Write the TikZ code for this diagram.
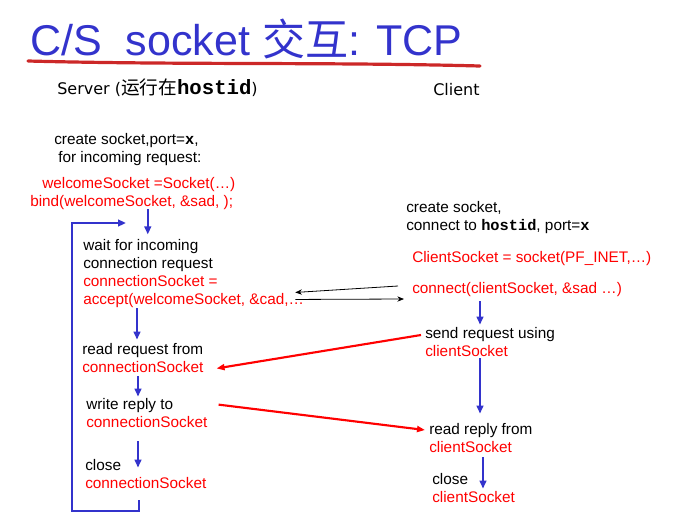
\documentclass[tikz,border=0pt]{standalone}
\usepackage{fontspec}
\setmainfont{Liberation Sans}
\setmonofont{Liberation Mono}
\newfontfamily\cjk{Noto Sans CJK SC}
\newfontfamily\headfont{DejaVu Sans}
\usetikzlibrary{calc,arrows.meta}
\definecolor{slideblue}{RGB}{51,51,204}
\definecolor{penred}{RGB}{204,40,40}
\newcommand{\cs}[1]{\textcolor{red}{#1}}
\newcommand{\hostid}{\texttt{\textbf{hostid}}}
\tikzset{
  txt/.style={inner sep=0pt, anchor=base west, align=left, font=\fontsize{11.5}{13.5}\selectfont},
  head/.style={inner sep=0pt, anchor=base west, font=\headfont\fontsize{12}{14}\selectfont},
  flow/.style={-{Triangle[length=6pt,width=5pt]}, slideblue, line width=1.6pt},
  msg/.style={-{Triangle[length=6pt,width=4.5pt]}, red, line width=1.6pt},
  hand/.style={-{Stealth[length=5pt,width=4pt]}, black, line width=0.6pt}
}
\begin{document}
\begin{tikzpicture}[x=0.75pt,y=-0.75pt]
    \useasboundingbox (0,0) rectangle (683,526);

    % title with hand drawn underline
    \node[inner sep=0pt, anchor=base west, text=slideblue, font=\fontsize{32.3}{36}\selectfont]
        (title) at (30,55) {C/S\ \ socket {\cjk 交互}: TCP};
    \draw[penred, line width=2.4pt, line cap=round]
        (28,61) .. controls (180,65) and (330,62) .. (480,66);

    % column heads
    \node[head] (server) at (57,94)
        {Server ({\cjk\fontsize{14}{14}\selectfont 运行在}{\fontsize{15.5}{14}\selectfont\hostid})};
    \node[head] (client) at (433,95) {Client};

    % server side (base = last line)
    \node[txt] (create) at (54,162)
        {create socket,port=\texttt{\textbf{x}},\\\hspace*{3pt}for incoming request:};
    \node[txt, text=red] (bind) at (30,206)
        {\hspace*{9pt}welcomeSocket =Socket(\ldots)\\bind(welcomeSocket, \&sad, );};
    \node[txt] (wait) at (83,304)
        {wait for incoming\\connection request\\\cs{connectionSocket =}\\\cs{accept(welcomeSocket, \&cad,\ldots}};
    \node[txt] (read) at (82,372) {read request from\\\cs{connectionSocket}};
    \node[txt] (write) at (86,427) {write reply to\\\cs{connectionSocket}};
    \node[txt] (close) at (85,488) {close\\\cs{connectionSocket}};

    % client side
    \node[txt] (csock) at (406,230) {create socket,\\connect to \hostid, port=\texttt{\textbf{x}}};
    \node[txt, text=red] (cnew) at (412,262) {ClientSocket = socket(PF\_INET,\ldots)};
    \node[txt, text=red] (connect) at (412,293) {connect(clientSocket, \&sad \ldots)};
    \node[txt] (send) at (425,356) {send request using\\\cs{clientSocket}};
    \node[txt] (reply) at (429,452) {read reply from\\\cs{clientSocket}};
    \node[txt] (cclose) at (432,502) {close\\\cs{clientSocket}};

    % flow on each side
    \coordinate (loopL) at (72,511);
    \coordinate (loopT) at (126,223);
    \draw[flow] ($(bind.south)+(15,0)$) -- ($(bind.south)+(15,25)$);
    \draw[flow] ($(wait.south west)+(54,1)$) -- ($(read.north west)+(55,-3)$);
    \draw[flow] ($(read.south west)+(56,4)$) -- ($(write.north west)+(52,-1)$);
    \draw[flow] ($(write.south west)+(52,14)$) -- ($(close.north west)+(53,9)$);
    \draw[flow] ($(close.south west)+(54,12)$) |- (loopL) |- (loopT);
    \draw[flow] ($(connect.south west)+(68,5)$) -- ($(send.north west)+(55,-2)$);
    \draw[flow] ($(send.south west)+(55,2)$) -- ($(reply.north west)+(51,-9)$);
    \draw[flow] ($(reply.south west)+(54,5)$) -- ($(cclose.north west)+(51,16)$);

    % connection set-up
    \draw[hand] ($(connect.base west)+(-14,-7)$) -- ($(wait.south east)+(-9,-15)$);
    \draw[hand] ($(wait.south east)+(-9,-8)$) -- ($(connect.base west)+(-8,6)$);

    % request and reply
    \draw[msg] ($(send.base west)+(-4,-21)$) -- ($(read.south east)+(13,-4)$);
    \draw[msg] ($(write.north east)+(11,7)$) -- ($(reply.base west)+(-4,-22)$);
\end{tikzpicture}
\end{document}
